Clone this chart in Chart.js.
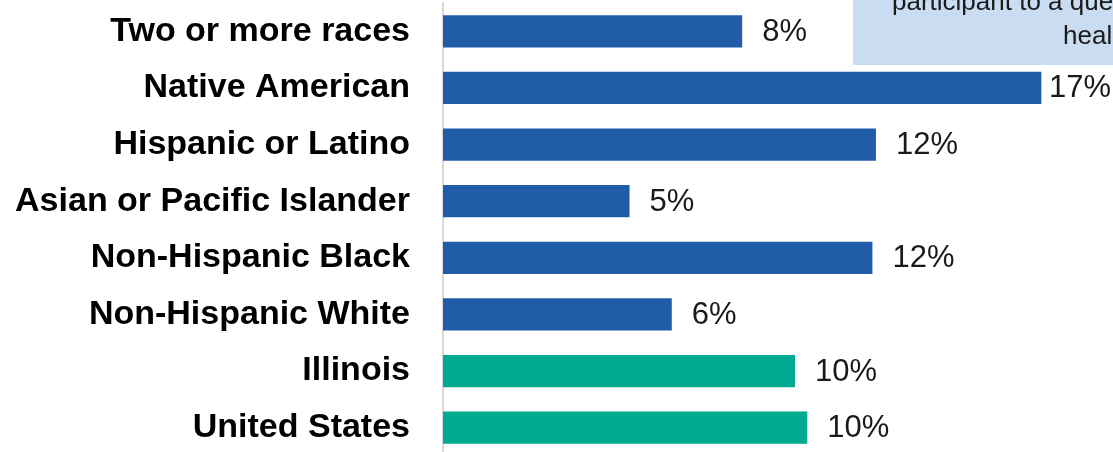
<!DOCTYPE html>
<html>
<head>
    <title>Share by group</title>
    <script src="https://cdn.jsdelivr.net/npm/chart.js@4"></script>
    <style>
        html, body { margin: 0; padding: 0; overflow: hidden; background: #fff; }
        .chart-container { position: relative; width: 1113px; height: 456px; }
    </style>
</head>
<body>
<div class="chart-container">
    <canvas id="myBarChart"></canvas>
</div>

<script>
    const categories = [
        'Two or more races',
        'Native American',
        'Hispanic or Latino',
        'Asian or Pacific Islander',
        'Non-Hispanic Black',
        'Non-Hispanic White',
        'Illinois',
        'United States'
    ];
    const values = [8.5, 17.0, 12.3, 5.3, 12.2, 6.5, 10.0, 10.35];
    const valueLabels = ['8%', '17%', '12%', '5%', '12%', '6%', '10%', '10%'];
    const groups = ['sub', 'sub', 'sub', 'sub', 'sub', 'sub', 'total', 'total'];

    const FONT = '"Liberation Sans", Arial, sans-serif';
    const groupColors = { sub: '#215CA8', total: '#00AA91' };

    // value labels to the right of each bar, pulled back in if they would run off the edge
    const valueLabelPlugin = {
        id: 'valueLabels',
        afterDatasetsDraw(chart) {
            const ctx = chart.ctx;
            const meta = chart.getDatasetMeta(0);
            ctx.save();
            ctx.font = '31px ' + FONT;
            ctx.fillStyle = '#1a1a1a';
            ctx.textBaseline = 'middle';
            ctx.textAlign = 'left';
            meta.data.forEach((bar, i) => {
                const text = valueLabels[i];
                const w = ctx.measureText(text).width;
                const x = Math.min(bar.x + 20, chart.width - w - 2);
                ctx.fillText(text, x, bar.y + 1);
            });
            ctx.restore();
        }
    };

    // the light blue note box cut off in the top right corner
    const noteBoxPlugin = {
        id: 'noteBox',
        afterDraw(chart) {
            const ctx = chart.ctx;
            ctx.save();
            ctx.fillStyle = '#C9DCF2';
            ctx.fillRect(853, 0, chart.width - 853, 65);
            ctx.font = '26px ' + FONT;
            ctx.fillStyle = '#1a1a1a';
            ctx.textBaseline = 'alphabetic';
            ctx.textAlign = 'left';
            ctx.fillText('participant to a que', 892, 10);
            ctx.fillText('heal', 1063, 44);
            ctx.restore();
        }
    };

    const ctx = document.getElementById('myBarChart').getContext('2d');
    const barChart = new Chart(ctx, {
        type: 'bar',
        data: {
            labels: categories,
            datasets: [{
                data: values,
                backgroundColor: groups.map(g => groupColors[g]),
                borderWidth: 0,
                categoryPercentage: 1.0,
                barPercentage: 0.57
            }]
        },
        options: {
            indexAxis: 'y',
            responsive: true,
            maintainAspectRatio: false,
            animation: false,
            layout: {
                padding: { top: 3, right: 3, left: 0, bottom: 0 }
            },
            plugins: {
                legend: { display: false },
                tooltip: { enabled: false }
            },
            scales: {
                x: {
                    display: false,
                    min: 0,
                    max: 18.95
                },
                y: {
                    afterFit(scale) {
                        scale.width = 443;
                        scale.paddingTop = 0;
                        scale.paddingBottom = 0;
                    },
                    grid: { display: false, drawTicks: false },
                    border: { display: true, color: '#D9D9D9', width: 2 },
                    ticks: {
                        padding: 33,
                        color: '#000',
                        font: { family: FONT, size: 34, weight: 'bold' }
                    }
                }
            }
        },
        plugins: [valueLabelPlugin, noteBoxPlugin]
    });
</script>
</body>
</html>
